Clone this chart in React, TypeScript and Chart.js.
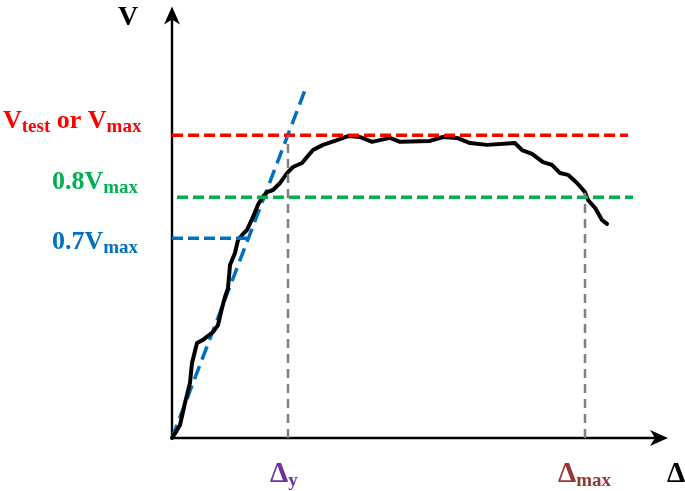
import React, { useEffect, useRef } from "react";
import { Chart, registerables } from "chart.js";

Chart.register(...registerables);

// Load–displacement curve (Δ, V) in arbitrary units, Vmax = 100
const curveDelta = [0, 1, 2, 3.25, 4.5, 5, 6.25, 7.75, 10.25, 11.5, 12.5, 13.25, 14, 14.5, 15.75, 16.5, 17.75, 18.75, 20.25, 21.5, 22.5, 23.75, 25.25, 27, 28.75, 30.25, 32.5, 33.75, 35.25, 37.75, 41.25, 44, 47, 50, 54.5, 57, 64.5, 67.75, 71.25, 74.5, 78.75, 85.75, 87.5, 90, 92.75, 95, 97, 99, 101.25, 103.25, 104, 105.75, 107.5, 108.75];
const curveV = [0, 2, 4.3, 11.6, 18.2, 24.8, 31.4, 32.4, 35, 37.3, 42.9, 46.6, 49.5, 57.1, 61.1, 65.4, 67.4, 68.7, 73, 77, 79.3, 81.2, 81.9, 84.2, 87.5, 89.5, 90.8, 92.8, 95.1, 96.8, 98.4, 99.7, 99.4, 97.8, 99.1, 97.8, 98.1, 99.4, 99.1, 97.4, 96.8, 97.4, 95.1, 93.8, 91.1, 90.2, 87.5, 86.9, 84.2, 81.2, 78.6, 76, 72, 70.7];

const vMax = 100;
const v08 = 79.5;
const v07 = 66;
const deltaY = 29;
const deltaMax = 103.25;
const redLineEnd = 114;
const greenLineStart = 1.25;
const greenLineEnd = 115.25;
const blueLineEnd = 19;
const tangentEnd = { x: 33.75, y: 116.6 };
const xAxisEnd = 124;
const yAxisEnd = 142.5;

const xMin = 0, xMax = 125, yMin = 0, yMax = 142;

type Seg = { t: string; sub?: boolean };
const labelV: Seg[] = [{ t: "V" }];
const labelVtest: Seg[] = [{ t: "V" }, { t: "test", sub: true }, { t: " or " }, { t: "V" }, { t: "max", sub: true }];
const label08: Seg[] = [{ t: "0.8V" }, { t: "max", sub: true }];
const label07: Seg[] = [{ t: "0.7V" }, { t: "max", sub: true }];
const labelDy: Seg[] = [{ t: "Δ" }, { t: "y", sub: true }];
const labelDmax: Seg[] = [{ t: "Δ" }, { t: "max", sub: true }];
const labelD: Seg[] = [{ t: "Δ" }];

const FONT = '"Liberation Serif", "Times New Roman", serif';

function drawSegs(ctx: CanvasRenderingContext2D, segs: Seg[], x: number, y: number, color: string, size = 26, subSize = 19) {
  ctx.save();
  ctx.fillStyle = color;
  ctx.textBaseline = "alphabetic";
  ctx.textAlign = "left";
  let cx = x;
  for (const s of segs) {
    ctx.font = `bold ${s.sub ? subSize : size}px ${FONT}`;
    ctx.fillText(s.t, cx, s.sub ? y + 4 : y);
    cx += ctx.measureText(s.t).width;
  }
  ctx.restore();
}

function arrowHead(ctx: CanvasRenderingContext2D, tx: number, ty: number, dir: "up" | "right") {
  ctx.save();
  ctx.fillStyle = "#000";
  ctx.beginPath();
  if (dir === "up") {
    ctx.moveTo(tx, ty);
    ctx.lineTo(tx + 8, ty + 18);
    ctx.lineTo(tx, ty + 13);
    ctx.lineTo(tx - 8, ty + 18);
  } else {
    ctx.moveTo(tx, ty);
    ctx.lineTo(tx - 18, ty - 8);
    ctx.lineTo(tx - 13, ty);
    ctx.lineTo(tx - 18, ty + 8);
  }
  ctx.closePath();
  ctx.fill();
  ctx.restore();
}

const overlayPlugin = {
  id: "overlay",
  beforeDatasetsDraw(chart: any) {
    const ctx: CanvasRenderingContext2D = chart.ctx;
    const xs = chart.scales.x;
    const ys = chart.scales.y;
    const x0 = xs.getPixelForValue(0);
    const y0 = ys.getPixelForValue(0);
    const yTop = ys.getPixelForValue(yAxisEnd);
    const xRight = xs.getPixelForValue(xAxisEnd);
    ctx.save();
    ctx.strokeStyle = "#000";
    ctx.lineWidth = 2.4;
    ctx.beginPath();
    ctx.moveTo(x0, y0);
    ctx.lineTo(x0, yTop + 10);
    ctx.moveTo(x0, y0);
    ctx.lineTo(xRight - 10, y0);
    ctx.stroke();
    ctx.restore();
    arrowHead(ctx, x0, yTop, "up");
    arrowHead(ctx, xRight, y0, "right");
  },
  afterDraw(chart: any) {
    const ctx: CanvasRenderingContext2D = chart.ctx;
    const xs = chart.scales.x;
    const ys = chart.scales.y;
    const px = (v: number) => xs.getPixelForValue(v);
    const py = (v: number) => ys.getPixelForValue(v);
    drawSegs(ctx, labelV, px(-13.5), py(136.4), "#000", 28);
    drawSegs(ctx, labelVtest, px(-42.25), py(102.3), "#FF0000");
    drawSegs(ctx, label08, px(-30), py(82.2), "#00B050");
    drawSegs(ctx, label07, px(-30), py(62.4), "#0070C0");
    drawSegs(ctx, labelDy, px(24.5), py(-14.5), "#7030A0", 29);
    drawSegs(ctx, labelDmax, px(96.5), py(-14.5), "#953735", 29);
    drawSegs(ctx, labelD, px(123.75), py(-14.5), "#000", 29);
  },
};

export default function App() {
  const ref = useRef<HTMLCanvasElement | null>(null);
  useEffect(() => {
    if (!ref.current) return;
    const line = (data: { x: number; y: number }[], color: string, width: number, dash: number[] = []) => ({
      data,
      borderColor: color,
      backgroundColor: color,
      borderWidth: width,
      borderDash: dash,
      showLine: true,
      pointRadius: 0,
      fill: false,
      clip: false as any,
      borderCapStyle: "butt" as const,
    });
    const curve = curveDelta.map((x, i) => ({ x, y: curveV[i] }));
    const chart = new Chart(ref.current, {
      type: "scatter",
      data: {
        datasets: [
          line([{ x: deltaY, y: 0 }, { x: deltaY, y: vMax }], "#808080", 2.5, [9, 6]),
          line([{ x: deltaMax, y: 0 }, { x: deltaMax, y: v08 + 1.5 }], "#808080", 2.5, [9, 6]),
          line([{ x: 0, y: vMax }, { x: redLineEnd, y: vMax }], "#FF0000", 3.5, [11, 5]),
          line([{ x: greenLineStart, y: v08 }, { x: greenLineEnd, y: v08 }], "#00B050", 3.5, [11, 5]),
          line([{ x: 0, y: v07 }, { x: blueLineEnd, y: v07 }], "#0070C0", 3.5, [11, 5]),
          { ...line(curve, "#000000", 4), borderCapStyle: "round" as const, borderJoinStyle: "round" as const },
          line([{ x: 0, y: 0 }, tangentEnd], "#0070C0", 3.5, [14, 7]),
        ],
      },
      options: {
        responsive: false,
        animation: false,
        events: [],
        layout: { padding: { left: 172, right: 13, top: 8, bottom: 53 } },
        plugins: { legend: { display: false }, tooltip: { enabled: false }, title: { display: false } },
        scales: {
          x: { type: "linear", min: xMin, max: xMax, display: false },
          y: { type: "linear", min: yMin, max: yMax, display: false },
        },
      },
      plugins: [overlayPlugin],
    });
    return () => chart.destroy();
  }, []);
  return (
    <div style={{ position: "absolute", left: 0, top: 0, width: 685, height: 491, background: "#fff" }}>
      <canvas ref={ref} width={685} height={491} style={{ width: 685, height: 491 }} />
    </div>
  );
}
